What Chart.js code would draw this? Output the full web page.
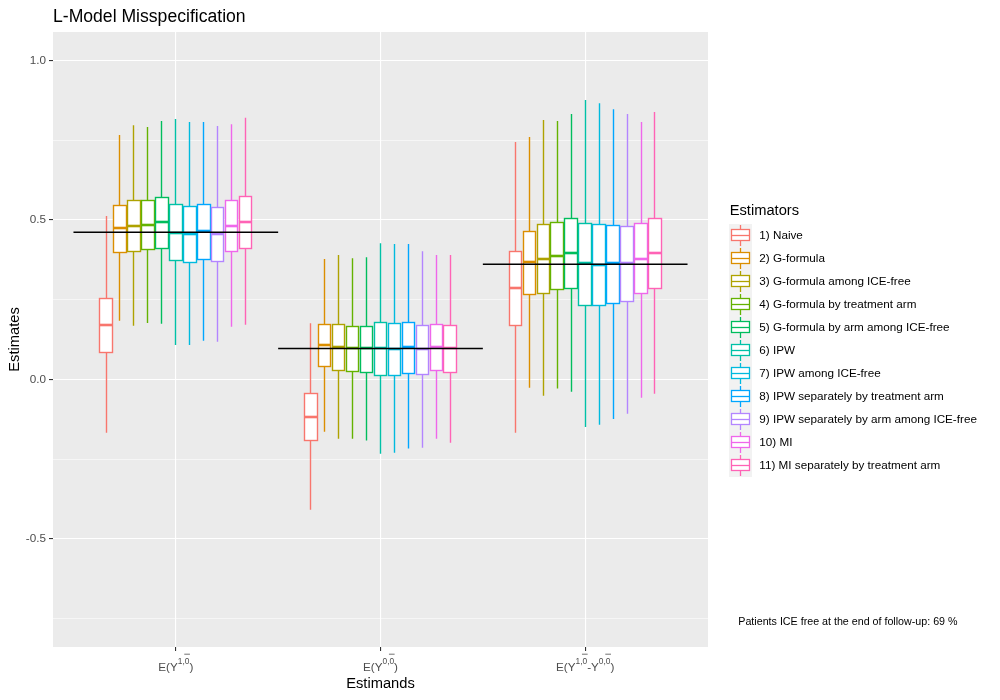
<!DOCTYPE html>
<html><head><meta charset="utf-8">
<script src="https://cdn.jsdelivr.net/npm/chart.js@4.4.1/dist/chart.umd.min.js"></script>
<style>html,body{margin:0;padding:0;background:#fff}#wrap{width:1000px;height:700px}</style>
</head><body><div id="wrap"><canvas id="c" width="1000" height="700"></canvas></div>
<script>
const chartTitle = 'L-Model Misspecification';
const xTitle = 'Estimands';
const yTitle = 'Estimates';
const legendTitle = 'Estimators';
const footnote = 'Patients ICE free at the end of follow-up: 69 %';

const estimators = ['1) Naive','2) G-formula','3) G-formula among ICE-free','4) G-formula by treatment arm',
  '5) G-formula by arm among ICE-free','6) IPW','7) IPW among ICE-free','8) IPW separately by treatment arm',
  '9) IPW separately by arm among ICE-free','10) MI','11) MI separately by treatment arm'];
const palette = ['#F8766D','#DB8E00','#AEA200','#64B200','#00BD5C','#00C1A7','#00BADE','#00A6FF','#B385FF','#EF67EB','#FF63B6'];

// estimand positions on the x axis and their labels (t = text, s = superscript, o = superscript with bar)
const estimandPos = [1, 2, 3];
const estimandLabels = [
  [['t','E(Y'],['s','1,'],['o','0'],['t',')']],
  [['t','E(Y'],['s','0,'],['o','0'],['t',')']],
  [['t','E(Y'],['s','1,'],['o','0'],['t','-Y'],['s','0,'],['o','0'],['t',')']]
];
const trueValues = [0.461, 0.097, 0.361];
const yTicks = [-0.75, -0.5, -0.25, 0, 0.25, 0.5, 0.75, 1.0];

// group 1: E(Y^{1,0})
const g1Lower  = [-0.167,0.184,0.168,0.177,0.174,0.108,0.108,0.121,0.118,0.165,0.171];
const g1Q1     = [0.085,0.398,0.401,0.408,0.411,0.373,0.367,0.376,0.370,0.401,0.411];
const g1Median = [0.170,0.475,0.481,0.484,0.493,0.458,0.455,0.464,0.456,0.481,0.493];
const g1Q3     = [0.253,0.544,0.561,0.561,0.571,0.549,0.542,0.549,0.539,0.561,0.574];
const g1Upper  = [0.512,0.766,0.797,0.791,0.810,0.816,0.807,0.807,0.794,0.800,0.820];
// group 2: E(Y^{0,0})
const g2Lower  = [-0.409,-0.164,-0.186,-0.186,-0.192,-0.233,-0.230,-0.217,-0.214,-0.186,-0.199];
const g2Q1     = [-0.191,0.039,0.028,0.025,0.022,0.013,0.013,0.019,0.016,0.028,0.022];
const g2Median = [-0.117,0.108,0.101,0.098,0.097,0.098,0.095,0.103,0.094,0.103,0.097];
const g2Q3     = [-0.044,0.172,0.172,0.166,0.166,0.179,0.176,0.179,0.169,0.172,0.169];
const g2Upper  = [0.176,0.377,0.390,0.380,0.383,0.427,0.424,0.424,0.402,0.390,0.390];
// group 3: difference
const g3Lower  = [-0.167,-0.026,-0.051,-0.029,-0.039,-0.149,-0.142,-0.124,-0.108,-0.058,-0.045];
const g3Q1     = [0.169,0.266,0.270,0.282,0.285,0.232,0.232,0.238,0.245,0.270,0.285];
const g3Median = [0.286,0.369,0.378,0.388,0.397,0.364,0.358,0.364,0.364,0.378,0.397];
const g3Q3     = [0.401,0.464,0.486,0.492,0.505,0.489,0.486,0.483,0.480,0.489,0.505];
const g3Upper  = [0.744,0.760,0.813,0.810,0.832,0.876,0.866,0.847,0.832,0.807,0.838];

const groups = [
  {lo:g1Lower, q1:g1Q1, med:g1Median, q3:g1Q3, hi:g1Upper},
  {lo:g2Lower, q1:g2Q1, med:g2Median, q3:g2Q3, hi:g2Upper},
  {lo:g3Lower, q1:g3Q1, med:g3Median, q3:g3Q3, hi:g3Upper}
];

const FONT = "'Liberation Sans', Arial, sans-serif";
const DODGE = 0.75;
const h = v => Math.round(v - 0.5) + 0.5;

const datasets = estimators.map((name, i) => ({
  label: name,
  borderColor: palette[i],
  backgroundColor: '#FFFFFF',
  pointRadius: 0,
  showLine: false,
  data: groups.map((g, k) => ({x: estimandPos[k], y: g.med[i], lo: g.lo[i], q1: g.q1[i], q3: g.q3[i], hi: g.hi[i]}))
}));

const boxPlugin = {
  id: 'boxes',
  beforeDraw(chart) {
    const {ctx, chartArea: a} = chart;
    ctx.save();
    ctx.fillStyle = '#EBEBEB';
    ctx.fillRect(a.left, a.top, a.right - a.left, a.bottom - a.top);
    ctx.restore();
  },
  afterDatasetsDraw(chart) {
    const {ctx, chartArea: a} = chart;
    const xs = chart.scales.x, ys = chart.scales.y;
    const n = chart.data.datasets.length;
    const slot = DODGE / n;
    ctx.save();
    ctx.beginPath(); ctx.rect(a.left, a.top, a.right - a.left, a.bottom - a.top); ctx.clip();
    chart.data.datasets.forEach((ds, i) => {
      ds.data.forEach(d => {
        const cxr = xs.getPixelForValue(d.x + (i - (n - 1) / 2) * slot);
        const hw = (xs.getPixelForValue(slot * 0.9) - xs.getPixelForValue(0)) / 2;
        const cx = h(cxr), xl = h(cxr - hw), xr = h(cxr + hw);
        const yLo = ys.getPixelForValue(d.lo), yQ1 = h(ys.getPixelForValue(d.q1));
        const yM = Math.round(ys.getPixelForValue(d.y)), yQ3 = h(ys.getPixelForValue(d.q3)), yHi = ys.getPixelForValue(d.hi);
        ctx.strokeStyle = ds.borderColor;
        ctx.lineWidth = 1.4;
        ctx.beginPath();
        ctx.moveTo(cx, yHi); ctx.lineTo(cx, yQ3);
        ctx.moveTo(cx, yQ1); ctx.lineTo(cx, yLo);
        ctx.stroke();
        ctx.fillStyle = '#FFFFFF';
        ctx.fillRect(xl, yQ3, xr - xl, yQ1 - yQ3);
        ctx.strokeRect(xl, yQ3, xr - xl, yQ1 - yQ3);
        ctx.lineWidth = 2.6;
        ctx.beginPath(); ctx.moveTo(xl, yM); ctx.lineTo(xr, yM); ctx.stroke();
      });
    });
    // true values
    ctx.strokeStyle = '#000000';
    ctx.lineWidth = 1.5;
    trueValues.forEach((v, k) => {
      const y = ys.getPixelForValue(v);
      ctx.beginPath();
      ctx.moveTo(xs.getPixelForValue(estimandPos[k] - 0.5), y);
      ctx.lineTo(xs.getPixelForValue(estimandPos[k] + 0.5), y);
      ctx.stroke();
    });
    ctx.restore();
  },
  afterDraw(chart) {
    const {ctx, chartArea: a} = chart;
    const xs = chart.scales.x;
    ctx.save();
    // title
    ctx.fillStyle = '#000000';
    ctx.textBaseline = 'middle';
    ctx.textAlign = 'left';
    ctx.font = '17.6px ' + FONT;
    ctx.fillText(chartTitle, a.left, 17);

    // x tick labels with superscripts
    const mainF = '11.7px ' + FONT, supF = '8.4px ' + FONT;
    const base = xs.top + 23.7;
    ctx.textBaseline = 'alphabetic';
    estimandLabels.forEach((parts, k) => {
      let w = 0;
      parts.forEach(p => { ctx.font = p[0] === 't' ? mainF : supF; w += ctx.measureText(p[1]).width; });
      let x = xs.getPixelForValue(estimandPos[k]) - w / 2;
      ctx.fillStyle = '#4D4D4D';
      ctx.strokeStyle = '#4D4D4D';
      parts.forEach(p => {
        ctx.font = p[0] === 't' ? mainF : supF;
        const tw = ctx.measureText(p[1]).width;
        const yb = p[0] === 't' ? base : base - 7;
        ctx.fillText(p[1], x, yb);
        if (p[0] === 'o') {
          ctx.lineWidth = 0.8;
          ctx.beginPath(); ctx.moveTo(x - 0.5, base - 16.5); ctx.lineTo(x + tw + 0.5, base - 16.5); ctx.stroke();
        }
        x += tw;
      });
    });

    // legend
    ctx.textBaseline = 'middle';
    ctx.fillStyle = '#000000';
    ctx.font = '14.7px ' + FONT;
    ctx.fillText(legendTitle, 729.7, 211);
    const keyL = 729, keyW = 23, keyTop = 224, step = 23;
    ctx.fillStyle = '#F2F2F2';
    ctx.fillRect(keyL, keyTop, keyW, step * estimators.length);
    chart.data.datasets.forEach((ds, i) => {
      const t = keyTop + step * i, cy = t + step / 2, cx = keyL + keyW / 2;
      ctx.strokeStyle = ds.borderColor;
      ctx.lineWidth = 1.3;
      ctx.beginPath();
      ctx.moveTo(h(cx), t + 1); ctx.lineTo(h(cx), t + step - 1);
      ctx.stroke();
      ctx.fillStyle = '#FFFFFF';
      const bx = h(keyL + 2.3), bw = 18, by = h(cy - 5.6), bh = 11;
      ctx.fillRect(bx, by, bw, bh);
      ctx.strokeRect(bx, by, bw, bh);
      ctx.beginPath(); ctx.moveTo(bx, h(cy)); ctx.lineTo(bx + bw, h(cy)); ctx.stroke();
      ctx.fillStyle = '#000000';
      ctx.font = '11.7px ' + FONT;
      ctx.fillText(ds.label, 759.3, cy);
    });

    // footnote
    ctx.font = '10.7px ' + FONT;
    ctx.fillText(footnote, 738.3, 621.7);
    ctx.restore();
  }
};

new Chart(document.getElementById('c'), {
  type: 'scatter',
  data: {datasets},
  options: {
    responsive: false,
    animation: false,
    events: [],
    layout: {padding: {left: 0, right: 292, top: 32, bottom: 0}},
    plugins: {legend: {display: false}, tooltip: {enabled: false}, title: {display: false}},
    scales: {
      x: {
        type: 'linear', min: 0.4, max: 3.6,
        afterBuildTicks: s => { s.ticks = estimandPos.map(v => ({value: v})); },
        afterFit: s => { s.height = 53; },
        border: {display: false},
        grid: {color: '#FFFFFF', lineWidth: 1.1, tickColor: '#333333', tickLength: 4, drawTicks: true},
        ticks: {callback: () => '', padding: 0},
        title: {display: true, text: xTitle, color: '#000000', font: {family: FONT, size: 14.7}, padding: {top: 0, bottom: 7}}
      },
      y: {
        type: 'linear', min: -0.839, max: 1.089,
        afterBuildTicks: s => { s.ticks = yTicks.map(v => ({value: v})); },
        afterFit: s => { s.width = 53; },
        border: {display: false},
        grid: {
          color: '#FFFFFF',
          lineWidth: c => (Math.abs((c.tick ? c.tick.value : 0) * 2 - Math.round((c.tick ? c.tick.value : 0) * 2)) < 1e-6 ? 1.1 : 0.55),
          tickColor: c => (c.tick && Math.abs(c.tick.value * 2 - Math.round(c.tick.value * 2)) < 1e-6 ? '#333333' : 'rgba(0,0,0,0)'),
          tickLength: 4
        },
        ticks: {
          color: '#4D4D4D', font: {family: FONT, size: 11.7}, padding: 3,
          callback: v => (Math.abs(v * 2 - Math.round(v * 2)) < 1e-6 ? v.toFixed(1) : '')
        },
        title: {display: true, text: yTitle, color: '#000000', font: {family: FONT, size: 14.7}, padding: {top: 6, bottom: 0}}
      }
    }
  },
  plugins: [boxPlugin]
});
</script></body></html>
